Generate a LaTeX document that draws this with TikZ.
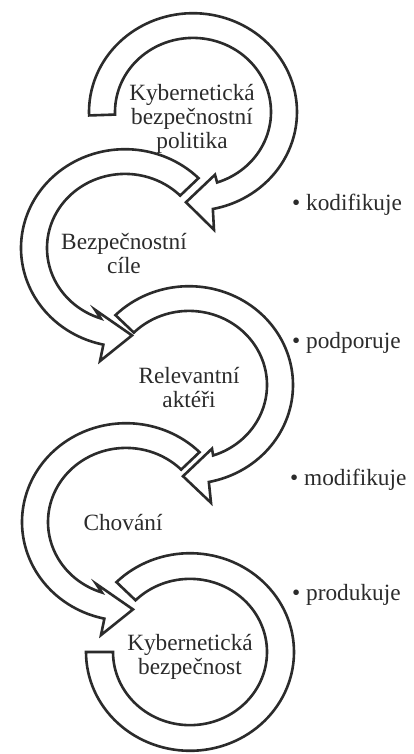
\documentclass[tikz,border=0pt]{standalone}
\usepackage{fontspec}
\setmainfont{Liberation Serif}
\definecolor{ink}{HTML}{2B2B2B}
\begin{document}
\begin{tikzpicture}[x=1pt,y=-1pt,
  ring/.style={draw=ink, line width=2.6pt, fill=white, line join=miter},
  txt/.style={text=ink, font=\fontsize{23.3}{24}\selectfont, align=center, inner sep=0pt},
  lbl/.style={text=ink, font=\fontsize{23.3}{24}\selectfont, inner sep=0pt, anchor=base west}]
\useasboundingbox (0,0) rectangle (414,754);
\fill[white] (0,0) rectangle (414,754);
% ring 1
\begin{scope}[shift={(193,112)}, yscale=0.95]
\draw[ring] plot[domain=178:439,samples=90] ({104*cos(\x)},{104*sin(\x)}) -- (21,124) -- (-7,95) -- (22,66)
  -- plot[domain=432:178,samples=90] ({78*cos(\x)},{78*sin(\x)}) -- cycle;
\end{scope}
% ring 2
\begin{scope}[shift={(125,248)}, yscale=0.95]
\draw[ring] plot[domain=315:102,samples=90] ({104*cos(\x)},{104*sin(\x)}) -- (-25,119) -- (7,92) -- (-30,65)
  -- plot[domain=108:315,samples=90] ({78*cos(\x)},{78*sin(\x)}) -- cycle;
\end{scope}
% ring 3
\begin{scope}[shift={(189,385)}, yscale=0.95]
\draw[ring] plot[domain=225:439,samples=90] ({104*cos(\x)},{104*sin(\x)}) -- (22,124) -- (-6,96) -- (23,67)
  -- plot[domain=432:225,samples=90] ({78*cos(\x)},{78*sin(\x)}) -- cycle;
\end{scope}
% ring 4
\begin{scope}[shift={(126,522)}, yscale=0.95]
\draw[ring] plot[domain=315:102,samples=90] ({104*cos(\x)},{104*sin(\x)}) -- (-25,119) -- (7,92) -- (-30,65)
  -- plot[domain=108:315,samples=90] ({78*cos(\x)},{78*sin(\x)}) -- cycle;
\end{scope}
% ring 5
\begin{scope}[shift={(190,652)}, yscale=0.95]
\draw[ring] plot[domain=225:540,samples=110] ({104*cos(\x)},{104*sin(\x)})
  -- plot[domain=540:225,samples=110] ({77*cos(\x)},{77*sin(\x)}) -- cycle;
\end{scope}
% texts
\node[txt] (t1) at (192,119) {Kybernetická\\bezpečnostní\\politika};
\node[txt] (t2) at (124,254) {Bezpečnostní\\cíle};
\node[txt] (t3) at (189,388) {Relevantní\\aktéři};
\node[txt] (t4) at (123,523) {Chování};
\node[txt] (t5) at (190,657) {Kybernetická\\bezpečnost};
% labels
\node[lbl] (l1) at (292,210.5) {• kodifikuje};
\node[lbl] (l2) at (292,348.5) {• podporuje};
\node[lbl] (l3) at (290,485.5) {• modifikuje};
\node[lbl] (l4) at (292,600.5) {• produkuje};
\end{tikzpicture}
\end{document}
